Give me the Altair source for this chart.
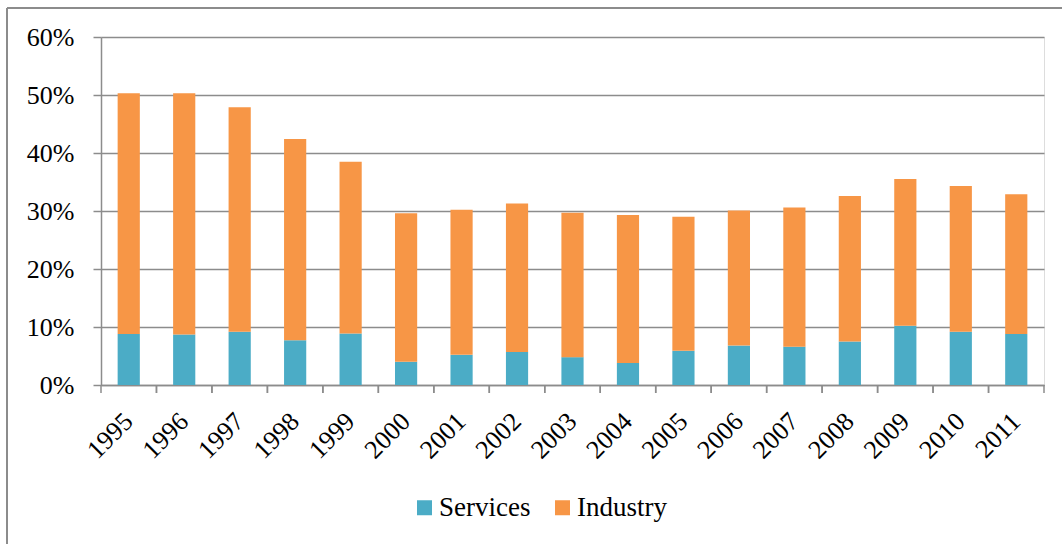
import altair as alt
import pandas as pd

years = [str(y) for y in range(1995, 2012)]
services = [8.8, 8.7, 9.2, 7.7, 8.9, 4.0, 5.2, 5.7, 4.8, 3.8, 5.9, 6.8, 6.6, 7.5, 10.2, 9.2, 8.8]
industry = [41.5, 41.6, 38.7, 34.7, 29.6, 25.6, 25.0, 25.6, 24.9, 25.5, 23.1, 23.3, 24.0, 25.1, 25.3, 25.1, 24.1]
series_names = ["Services", "Industry"]
series_colors = ["#4BACC6", "#F79646"]
y_ticks = [0, 0.1, 0.2, 0.3, 0.4, 0.5, 0.6]

rows = []
for i, yr in enumerate(years):
    rows.append({"year": yr, "sector": "Services", "value": services[i] / 100, "ord": 0})
    rows.append({"year": yr, "sector": "Industry", "value": industry[i] / 100, "ord": 1})
df = pd.DataFrame(rows)
dyears = pd.DataFrame({"year": years})

FONT = "Liberation Serif"
GRAY = "#8c8c8c"
W, H = 943, 348

xscale = alt.Scale(paddingInner=0, paddingOuter=0)

bars = alt.Chart(df).mark_bar(width=alt.RelativeBandSize(0.4)).encode(
    x=alt.X("year:N", scale=xscale, sort=years,
            axis=alt.Axis(title=None, labelAngle=-45, labelAlign="right", labelBaseline="middle",
                          labelPadding=32, ticks=False, domainColor=GRAY, domainWidth=1.5,
                          labelFont=FONT, labelFontSize=26, labelColor="black")),
    y=alt.Y("value:Q", stack="zero", scale=alt.Scale(domain=[0, 0.6], nice=False),
            axis=alt.Axis(title=None, values=y_ticks, format=".0%", grid=True, gridColor=GRAY,
                          gridWidth=1.5, tickColor=GRAY, tickWidth=1.5, tickSize=8,
                          domainColor=GRAY, domainWidth=1.5, labelPadding=19,
                          labelFont=FONT, labelFontSize=26, labelColor="black")),
    color=alt.Color("sector:N", scale=alt.Scale(domain=series_names, range=series_colors),
                    legend=alt.Legend(title=None, orient="none", legendX=310, legendY=457,
                                      direction="horizontal", symbolType="square", symbolSize=225,
                                      symbolStrokeWidth=0, labelFont=FONT, labelFontSize=27,
                                      labelColor="black", labelOffset=1, columnPadding=18)),
    order=alt.Order("ord:Q", sort="ascending"),
)

tick_start = alt.Chart(dyears).mark_rule(color=GRAY, strokeWidth=1.5).encode(
    x=alt.X("year:N", sort=years, scale=xscale, bandPosition=0),
    y=alt.value(H), y2=alt.value(H + 8),
)
tick_end = alt.Chart(dyears).mark_rule(color=GRAY, strokeWidth=1.5).encode(
    x=alt.X("year:N", sort=years, scale=xscale, bandPosition=1),
    y=alt.value(H), y2=alt.value(H + 8),
)

border_left = alt.Chart(dyears).mark_rule(color="#8c8c8c", strokeWidth=2).encode(
    x=alt.value(-94), y=alt.value(-29), y2=alt.value(520),
)
border_top = alt.Chart(dyears).mark_rule(color="#8c8c8c", strokeWidth=2).encode(
    x=alt.value(-94), x2=alt.value(980), y=alt.value(-29),
)

chart = alt.layer(bars, tick_start, tick_end, border_left, border_top).properties(
    width=W, height=H,
    autosize=alt.AutoSizeParams(type="none"),
    padding={"left": 101, "top": 37, "right": 18, "bottom": 159},
).configure_view(stroke=None).configure(background="white")

chart.save("out.html", embed_options={"renderer": "svg", "actions": False})
